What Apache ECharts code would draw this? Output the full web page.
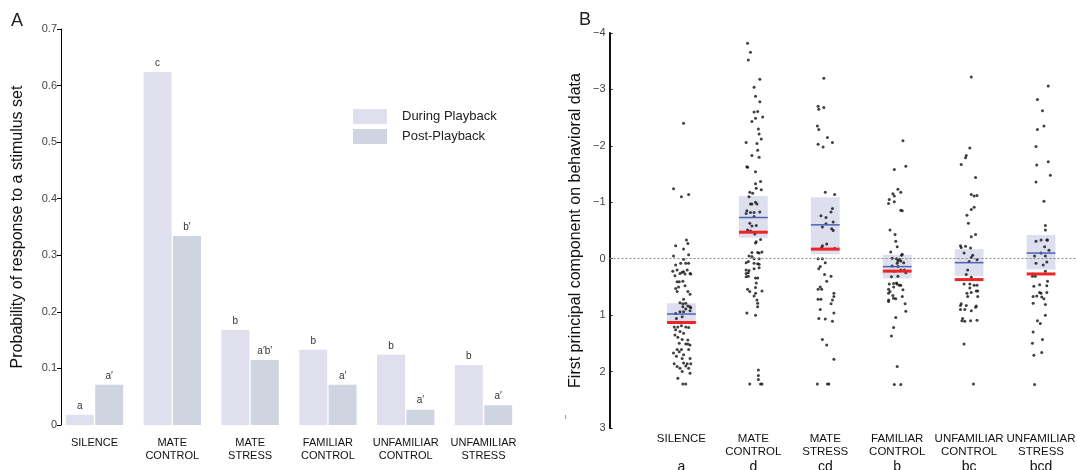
<!DOCTYPE html>
<html><head><meta charset="utf-8">
<script src="https://cdn.jsdelivr.net/npm/echarts@6/dist/echarts.min.js"></script>
<style>html,body{margin:0;padding:0;background:#fff}#c{width:1077px;height:470px}</style>
</head><body><div id="c"></div>
<script>
// ---------- Panel A data ----------
const categoriesA = ['SILENCE','MATE\nCONTROL','MATE\nSTRESS','FAMILIAR\nCONTROL','UNFAMILIAR\nCONTROL','UNFAMILIAR\nSTRESS'];
const duringPlayback = [0.018, 0.624, 0.168, 0.133, 0.124, 0.106];
const postPlayback   = [0.071, 0.334, 0.115, 0.071, 0.027, 0.035];
const duringLetters  = ['a','c','b','b','b','b'];
const postLetters    = ['a′','b′','a′b′','a′','a′','a′'];

// ---------- Panel B data ----------
const categoriesB = ['SILENCE','MATE\nCONTROL','MATE\nSTRESS','FAMILIAR\nCONTROL','UNFAMILIAR\nCONTROL','UNFAMILIAR\nSTRESS'];
const groupLettersB = ['a','d','cd','b','bc','bcd'];
const boxLow   = [0.79, -1.11, -1.09, -0.07, -0.17, -0.42];
const boxHigh  = [1.15, -0.37, -0.08,  0.35,  0.31,  0.19];
const meanPC   = [0.98, -0.73, -0.60,  0.14,  0.07, -0.10];
const medianPC = [1.13, -0.47, -0.17,  0.22,  0.37,  0.27];

// points: [horizontal jitter within group, PC value]
const silencePts = [[0.03,-2.40],[-0.11,-1.24],[0.00,-1.10],[0.10,-1.14],[0.07,-0.33],[0.09,-0.27],[-0.08,-0.23],[0.03,-0.17],[-0.11,-0.05],[0.10,-0.07],[0.03,0.01],[0.06,0.08],[0.10,0.08],[-0.08,0.11],[-0.01,0.08],[-0.12,0.22],[-0.06,0.20],[-0.02,0.26],[0.01,0.24],[0.03,0.23],[0.08,0.20],[0.12,0.26],[0.13,0.27],[-0.09,0.30],[0.05,0.27],[-0.06,0.41],[-0.03,0.41],[0.02,0.40],[0.05,0.48],[-0.08,0.53],[-0.04,0.50],[-0.06,0.58],[0.09,0.58],[0.12,0.63],[0.03,0.72],[-0.02,0.78],[0.02,0.80],[0.06,0.79],[0.09,0.84],[0.12,0.85],[0.02,0.85],[0.13,0.87],[0.06,0.89],[0.12,0.92],[-0.02,0.94],[-0.08,0.97],[0.03,0.94],[0.01,1.03],[-0.07,1.06],[-0.10,1.21],[-0.05,1.21],[0.00,1.19],[0.06,1.21],[0.10,1.22],[-0.08,1.26],[-0.02,1.29],[0.03,1.32],[-0.09,1.35],[-0.05,1.39],[0.01,1.43],[0.09,1.44],[0.12,1.53],[-0.03,1.50],[0.06,1.51],[0.09,1.51],[-0.06,1.61],[0.00,1.61],[0.10,1.61],[-0.11,1.67],[-0.03,1.65],[0.03,1.70],[-0.07,1.73],[0.01,1.77],[0.12,1.77],[-0.10,1.86],[0.03,1.85],[0.08,1.86],[0.13,1.86],[0.06,1.90],[-0.06,1.91],[-0.02,1.94],[0.10,1.94],[0.01,2.00],[0.12,2.03],[-0.05,2.12],[0.02,2.22],[0.06,2.22]];
const mateControlPts = [[-0.08,-3.82],[-0.04,-3.66],[-0.07,-3.52],[0.09,-3.18],[0.01,-3.04],[0.03,-2.88],[0.09,-2.78],[0.01,-2.60],[0.06,-2.61],[0.13,-2.51],[0.03,-2.49],[-0.02,-2.43],[0.07,-2.30],[0.08,-2.21],[0.11,-2.12],[-0.10,-2.06],[0.05,-2.04],[0.06,-1.92],[-0.02,-1.83],[0.08,-1.80],[-0.09,-1.63],[-0.08,-1.62],[0.03,-1.54],[0.10,-1.37],[0.03,-1.33],[0.11,-1.22],[0.04,-1.25],[-0.05,-1.18],[-0.01,-1.16],[-0.06,-1.10],[-0.04,-0.97],[0.03,-1.00],[0.05,-0.97],[-0.02,-0.97],[-0.09,-0.85],[-0.04,-0.82],[0.01,-0.82],[0.09,-0.83],[-0.10,-0.80],[0.01,-0.75],[-0.05,-0.63],[-0.02,-0.58],[0.04,-0.59],[-0.08,-0.51],[-0.04,-0.49],[0.02,-0.44],[0.10,-0.34],[0.04,-0.30],[0.03,-0.28],[-0.02,-0.11],[0.06,-0.11],[0.12,-0.12],[0.08,-0.10],[-0.06,-0.05],[-0.02,-0.04],[0.01,0.00],[0.08,0.00],[-0.10,0.07],[-0.07,0.05],[0.01,0.08],[0.06,0.09],[0.08,0.10],[0.01,0.18],[0.08,0.16],[-0.10,0.20],[-0.06,0.21],[-0.10,0.26],[-0.07,0.25],[-0.07,0.31],[-0.10,0.32],[0.03,0.34],[0.06,0.34],[0.04,0.43],[0.03,0.51],[-0.08,0.54],[-0.05,0.58],[0.12,0.57],[0.03,0.61],[0.01,0.66],[0.05,0.73],[0.06,0.79],[0.06,0.85],[-0.09,0.96],[0.03,1.00],[0.07,1.97],[0.07,2.07],[0.07,2.14],[-0.05,2.22],[0.10,2.22],[0.12,2.22]];
const mateStressPts = [[-0.02,-3.20],[-0.10,-2.70],[-0.09,-2.65],[-0.02,-2.68],[-0.11,-2.35],[-0.09,-2.29],[0.03,-2.15],[0.10,-2.06],[-0.10,-2.03],[-0.03,-1.98],[0.00,-1.18],[0.13,-1.14],[0.10,-0.89],[0.08,-0.83],[-0.06,-0.76],[0.01,-0.73],[0.11,-0.65],[0.01,-0.62],[-0.04,-0.56],[0.09,-0.53],[0.11,-0.50],[0.02,-0.26],[-0.04,-0.23],[-0.05,-0.20],[0.13,-0.18],[-0.10,0.00],[-0.04,0.00],[0.00,0.07],[-0.07,0.14],[-0.09,0.18],[-0.01,0.28],[0.08,0.31],[0.02,0.40],[-0.07,0.50],[-0.05,0.54],[-0.10,0.54],[0.12,0.61],[0.12,0.67],[0.10,0.73],[-0.10,0.72],[-0.06,0.72],[0.08,0.80],[-0.07,0.90],[0.12,0.96],[-0.09,1.06],[0.00,1.07],[0.10,1.11],[-0.04,1.43],[0.02,1.53],[0.12,1.78],[-0.11,2.22],[0.03,2.22],[0.05,2.22]];
const familiarControlPts = [[0.08,-2.09],[0.12,-1.64],[-0.04,-1.58],[0.01,-1.23],[0.05,-1.18],[-0.06,-1.15],[-0.04,-1.11],[-0.11,-1.05],[-0.04,-1.01],[-0.12,-0.98],[0.05,-0.86],[0.07,-0.85],[-0.10,-0.51],[-0.03,-0.43],[-0.02,-0.31],[0.00,-0.21],[-0.09,-0.12],[0.07,-0.08],[0.06,-0.06],[-0.07,-0.01],[-0.01,0.00],[0.03,0.01],[0.01,0.04],[0.05,0.04],[0.09,0.07],[0.00,0.08],[-0.07,0.13],[0.01,0.14],[0.05,0.20],[0.10,0.20],[-0.04,0.22],[0.12,0.25],[-0.08,0.32],[0.01,0.31],[-0.01,0.43],[-0.05,0.44],[-0.11,0.45],[0.00,0.45],[0.03,0.47],[0.05,0.47],[-0.05,0.50],[-0.12,0.54],[0.08,0.55],[-0.10,0.58],[-0.12,0.61],[-0.06,0.65],[0.07,0.67],[-0.05,0.70],[-0.02,0.71],[-0.12,0.73],[-0.12,0.76],[0.11,0.80],[0.12,0.93],[-0.02,1.04],[-0.05,1.22],[-0.08,1.37],[0.00,1.91],[-0.04,2.23],[0.05,2.23]];
const unfamiliarControlPts = [[0.03,-3.22],[0.01,-1.96],[-0.04,-1.83],[-0.05,-1.79],[-0.11,-1.67],[0.09,-1.44],[0.03,-1.14],[0.07,-1.11],[0.11,-1.12],[0.07,-0.91],[0.03,-0.87],[-0.03,-0.77],[-0.01,-0.63],[0.09,-0.43],[0.03,-0.39],[-0.12,-0.23],[-0.05,-0.22],[-0.11,-0.20],[0.02,-0.19],[-0.07,-0.10],[0.05,-0.06],[0.03,-0.02],[0.11,0.02],[0.00,0.05],[-0.02,0.20],[-0.04,0.28],[0.03,0.33],[-0.07,0.45],[0.01,0.45],[0.07,0.47],[0.11,0.47],[0.01,0.52],[0.10,0.57],[0.12,0.57],[-0.03,0.61],[0.03,0.60],[-0.02,0.67],[0.12,0.67],[-0.11,0.80],[-0.12,0.83],[-0.04,0.83],[0.10,0.84],[0.09,0.86],[-0.06,0.90],[-0.12,0.90],[0.03,0.92],[-0.09,1.06],[-0.10,1.10],[-0.06,1.11],[0.02,1.10],[0.11,1.09],[-0.07,1.51],[0.06,2.22]];
const unfamiliarStressPts = [[0.10,-3.06],[-0.05,-2.82],[0.02,-2.62],[0.04,-2.35],[-0.05,-2.29],[-0.07,-1.99],[0.10,-1.72],[-0.06,-1.66],[0.13,-1.48],[-0.07,-1.36],[0.04,-1.02],[0.06,-0.59],[0.06,-0.51],[-0.07,-0.31],[0.00,-0.33],[0.08,-0.33],[0.09,-0.33],[0.05,-0.21],[0.11,-0.15],[0.00,-0.10],[-0.09,-0.05],[0.06,-0.05],[-0.07,0.08],[0.08,0.06],[0.03,0.11],[0.06,0.22],[-0.11,0.27],[-0.12,0.31],[-0.08,0.31],[0.09,0.40],[-0.02,0.46],[-0.10,0.49],[0.08,0.48],[0.00,0.61],[-0.02,0.60],[0.08,0.60],[-0.06,0.66],[-0.11,0.67],[0.01,0.68],[0.04,0.71],[-0.11,0.79],[0.06,0.81],[0.06,1.00],[-0.05,1.10],[-0.01,1.15],[-0.11,1.30],[0.02,1.43],[-0.12,1.50],[0.01,1.66],[-0.10,1.71],[-0.09,2.23]];
const groupPoints = [silencePts, mateControlPts, mateStressPts, familiarControlPts, unfamiliarControlPts, unfamiliarStressPts];

const FONT = '"Liberation Sans", Arial, Helvetica, sans-serif';
const chart = echarts.init(document.getElementById('c'), null, {renderer:'canvas'});

const scatterData = [];
groupPoints.forEach((pts, g) => pts.forEach(p => scatterData.push([g + 1 + p[0], p[1]])));
const boxData = categoriesB.map((c, i) => [i + 1, boxLow[i], boxHigh[i], meanPC[i], medianPC[i]]);

function labelB(v) {
  if (Math.abs(v - Math.round(v)) > 1e-6) return '';
  const i = Math.round(v) - 1;
  if (i < 0 || i >= categoriesB.length) return '';
  const lines = categoriesB[i].split('\n');
  if (lines.length === 1) lines.push('\u00a0');
  return '{n|' + lines[0] + '}\n{n|' + lines[1] + '}\n{l|' + groupLettersB[i] + '}';
}

const option = {
  animation: false,
  backgroundColor: '#ffffff',
  textStyle: {fontFamily: FONT},
  graphic: [
    {type:'text', left: 11, top: 12, style:{text:'A', fontSize:18, fill:'#222', fontFamily: FONT}},
    {type:'text', left: 579, top: 11, style:{text:'B', fontSize:18, fill:'#222', fontFamily: FONT}},
    {type:'rect', left: 565, top: 415, shape:{width:1, height:4}, style:{fill:'#999'}}
  ],
  legend: {
    left: 353, top: 109, orient: 'vertical', itemWidth: 34, itemHeight: 15, itemGap: 5,
    padding: 0, icon: 'rect',
    textStyle: {fontSize: 13, color: '#222', fontFamily: FONT, padding: [0,0,0,10]},
    data: ['During Playback', 'Post-Playback']
  },
  grid: [
    {left: 55.6, width: 466.8, top: 29, height: 396, outerBoundsMode: 'none', containLabel: false},
    {left: 609.5, width: 467.5, top: 33, height: 395, outerBoundsMode: 'none', containLabel: false}
  ],
  xAxis: [
    {type:'category', gridIndex:0, data: categoriesA,
     axisLine:{show:false}, axisTick:{show:false},
     axisLabel:{color:'#111', fontSize:11, lineHeight:13, margin:11, fontFamily: FONT, interval:0}},
    {type:'value', gridIndex:1, min:0, max:6.5, interval:1,
     axisLine:{show:false}, axisTick:{show:false}, splitLine:{show:false},
     axisLabel:{formatter: labelB, margin: 4, showMinLabel:true, showMaxLabel:true,
       rich:{ n:{fontSize:11.5, lineHeight:13.5, color:'#111', fontFamily: FONT},
              l:{fontSize:14, lineHeight:16, color:'#111', fontFamily: FONT} }}}
  ],
  yAxis: [
    {type:'value', gridIndex:0, min:0, max:0.7, interval:0.1, offset:-5.4,
     axisLine:{show:true, lineStyle:{color:'#000', width:1}},
     axisTick:{show:true, length:4, lineStyle:{color:'#000'}},
     splitLine:{show:false},
     axisLabel:{color:'#444', fontSize:11, margin:4, fontFamily: FONT},
     name:'Probability of response to a stimulus set', nameLocation:'middle', nameGap:35,
     nameTextStyle:{fontSize:16, color:'#111', fontFamily: FONT}},
    {type:'value', gridIndex:1, min:-4, max:3, interval:1, inverse:true,
     axisLine:{show:true, lineStyle:{color:'#111', width:2}},
     axisTick:{show:true, inside:true, length:3, lineStyle:{color:'#111'}},
     splitLine:{show:false},
     axisLabel:{color:'#444', fontSize:11, margin:4, fontFamily: FONT,
       formatter: v => String(v).replace('-', '\u2212')},
     name:'First principal component on behavioral data', nameLocation:'middle', nameGap:26,
     nameTextStyle:{fontSize:16, color:'#111', fontFamily: FONT}}
  ],
  series: [
    {name:'During Playback', type:'bar', xAxisIndex:0, yAxisIndex:0, data: duringPlayback,
     barWidth:28, barGap:'5%', itemStyle:{color:'#e0dfee'},
     label:{show:true, position:'top', distance:4, fontSize:10, color:'#333', fontFamily: FONT,
       formatter: p => duringLetters[p.dataIndex]}},
    {name:'Post-Playback', type:'bar', xAxisIndex:0, yAxisIndex:0, data: postPlayback,
     barWidth:28, barGap:'5%', itemStyle:{color:'#ced5e1'},
     label:{show:true, position:'top', distance:4, fontSize:10, color:'#333', fontFamily: FONT,
       formatter: p => postLetters[p.dataIndex]}},
    {type:'custom', xAxisIndex:1, yAxisIndex:1, data: boxData, z:1,
     renderItem: (params, api) => {
       const x = api.value(0);
       const a = api.coord([x - 0.2, api.value(1)]);
       const b = api.coord([x + 0.2, api.value(2)]);
       return {type:'rect', shape:{x:Math.min(a[0],b[0]), y:Math.min(a[1],b[1]),
         width:Math.abs(b[0]-a[0]), height:Math.abs(b[1]-a[1])},
         style:{fill:'#dedfee'}};
     },
     markLine:{silent:true, symbol:'none', label:{show:false},
       lineStyle:{type:[2,2], color:'#888', width:1}, data:[{yAxis:0}]}},
    {type:'scatter', xAxisIndex:1, yAxisIndex:1, data: scatterData, symbol:'circle', symbolSize:3,
     itemStyle:{color:'#111'}, z:3},
    {type:'custom', xAxisIndex:1, yAxisIndex:1, data: boxData, z:4,
     renderItem: (params, api) => {
       const x = api.value(0);
       const m1 = api.coord([x - 0.2, api.value(3)]);
       const m2 = api.coord([x + 0.2, api.value(3)]);
       const d1 = api.coord([x - 0.2, api.value(4)]);
       const d2 = api.coord([x + 0.2, api.value(4)]);
       return {type:'group', children:[
         {type:'line', shape:{x1:m1[0], y1:m1[1], x2:m2[0], y2:m2[1]}, style:{stroke:'#4a62b8', lineWidth:1.5}},
         {type:'line', shape:{x1:d1[0], y1:d1[1], x2:d2[0], y2:d2[1]}, style:{stroke:'#ee2424', lineWidth:3}}
       ]};
     }}
  ]
};
chart.setOption(option);
</script></body></html>
